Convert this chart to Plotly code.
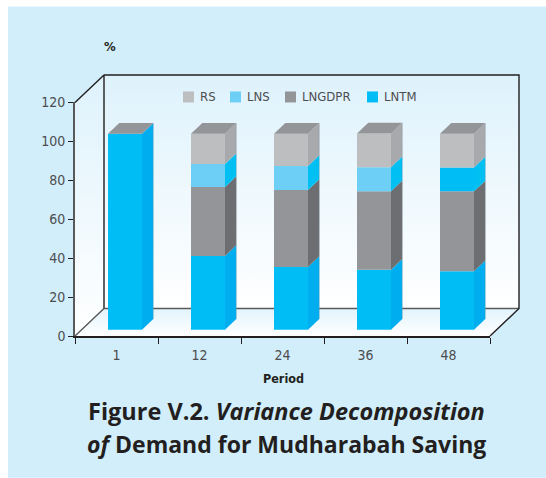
import plotly.graph_objects as go

periods = ["1", "12", "24", "36", "48"]
LNTM = [100.7, 37.9, 32.2, 30.8, 30.1]
LNGDPR = [0, 35.4, 39.6, 40.4, 41.0]
LNS = [0, 11.8, 12.3, 12.3, 12.3]
RS = [0, 15.6, 16.6, 17.3, 17.3]
series = ["LNTM", "LNGDPR", "LNS", "RS"]
values = [LNTM, LNGDPR, LNS, RS]
front_colors = ["#00bef5", "#939598", "#6dcff6", "#bcbec0"]
side_colors = ["#00aeef", "#6d6e71", "#00bff3", "#a7a9ac"]
legend_order = ["RS", "LNS", "LNGDPR", "LNTM"]
legend_colors = ["#bcbec0", "#6dcff6", "#939598", "#00bef5"]

W, H = 546, 478
L, R, T, B = 75, 490, 102, 336
PAD = 4
CX = (R - L) / 5
CY = (B - T) / 120
YMAX = 120
DX_PX, DY_PX = 29, 27.5
DEPTH_X, DEPTH_Y = DX_PX / CX, DY_PX / CY
BAR_X, BAR_Y = 33 / CX, 6.3 / CY
BAR_W = 34 / CX
SIDE_X, SIDE_Y = 11.3 / CX, 10.7 / CY
# drawing area (holds the whole pseudo-3D box), in page pixels
AL, AR, AT, AB = L - PAD, R + DX_PX + PAD, T - DY_PX - PAD, B + PAD
INK = "#4d4d4f"
BOX = "#231f20"
FONT = "DejaVu Sans Condensed, Lato, sans-serif"
TITLE_FONT = "Open Sans, Noto Sans, sans-serif"

fig = go.Figure()


def poly(xs, ys, color=None, gradient=None):
    kw = dict(fillgradient=gradient) if gradient else dict(fillcolor=color)
    fig.add_trace(go.Scatter(x=xs, y=ys, mode="lines", fill="toself", line=dict(width=0),
                             hoverinfo="skip", showlegend=False, **kw))


def line(xs, ys, color=BOX, width=1.4):
    fig.add_trace(go.Scatter(x=xs, y=ys, mode="lines", line=dict(color=color, width=width),
                             hoverinfo="skip", showlegend=False))


grad = dict(type="vertical", colorscale=[[0, "#ffffff"], [1, "#def2fc"]])
n = len(periods)
# left wall, back wall, floor
poly([0, DEPTH_X, DEPTH_X, 0, 0], [0, DEPTH_Y, YMAX + DEPTH_Y, YMAX, 0], gradient=grad)
poly([DEPTH_X, n + DEPTH_X, n + DEPTH_X, DEPTH_X, DEPTH_X],
     [DEPTH_Y, DEPTH_Y, YMAX + DEPTH_Y, YMAX + DEPTH_Y, DEPTH_Y], gradient=grad)
poly([0, n, n + DEPTH_X, DEPTH_X, 0], [0, 0, DEPTH_Y, DEPTH_Y, 0],
     gradient=dict(type="vertical", colorscale=[[0, "#ffffff"], [1, "#e2f4fc"]]))
line([0, DEPTH_X, DEPTH_X], [YMAX, YMAX + DEPTH_Y, DEPTH_Y])
line([0, DEPTH_X, n + DEPTH_X], [0, DEPTH_Y, DEPTH_Y], color="#58595b")
line([DEPTH_X, n + DEPTH_X, n + DEPTH_X, n], [YMAX + DEPTH_Y, YMAX + DEPTH_Y, DEPTH_Y, 0])

# bars: front, side and top faces from the cumulated series values
for i in range(n):
    x0 = i + BAR_X
    x1 = x0 + BAR_W
    base = BAR_Y
    for s, vals in enumerate(values):
        v = vals[i]
        if v == 0:
            continue
        top = base + v
        front = front_colors[s]
        if series[s] == "LNS" and periods[i] == "48":
            front = "#00bef5"
        poly([x0, x1, x1, x0, x0], [base, base, top, top, base], color=front)
        poly([x1, x1 + SIDE_X, x1 + SIDE_X, x1, x1],
             [base, base + SIDE_Y, top + SIDE_Y, top, base], color=side_colors[s])
        base = top
    poly([x0, x1, x1 + SIDE_X, x0 + SIDE_X, x0],
         [base, base, base + SIDE_Y, base + SIDE_Y, base], color="#939598")
    line([x1 + SIDE_X, x1 + SIDE_X], [BAR_Y + SIDE_Y, base + SIDE_Y], color="rgba(130,150,165,0.35)", width=1)


def px(x):
    return (x - AL) / (AR - AL)


def py(y):
    return (AB - y) / (AB - AT)


shapes = [dict(type="rect", xref="paper", yref="paper", layer="below", line=dict(width=0),
               fillcolor="#d2eefb", x0=px(8), x1=px(W), y0=py(H), y1=py(6))]
anns = []


def text(x, y, s, size, color=INK, font=FONT, xanchor="center"):
    anns.append(dict(x=px(x), y=py(y), xref="paper", yref="paper", text=s, showarrow=False,
                     xanchor=xanchor, yanchor="middle", font=dict(family=font, size=size, color=color)))


for name, col, sx in zip(legend_order, legend_colors, [183, 230, 285, 367]):
    shapes.append(dict(type="rect", xref="paper", yref="paper", line=dict(width=0), fillcolor=col,
                       x0=px(sx), x1=px(sx + 11), y0=py(102), y1=py(91)))
    text(sx + 15, 96.5, name, 13, xanchor="left")

text(110, 46, "<b>%</b>", 13, color="#231f20")
text(283, 379, "<b>Period</b>", 12.5, color="#231f20")
text(286, 411, "<b>Figure V.2. <i>Variance Decomposition</i></b>", 23.5, color="#231f20", font=TITLE_FONT)
text(286, 444, "<b><i>of</i> Demand for Mudharabah Saving</b>", 23, color="#231f20", font=TITLE_FONT)

fig.add_trace(go.Scatter(x=[], y=[], xaxis="x2", yaxis="y2", showlegend=False, hoverinfo="skip"))

fig.update_layout(
    width=W, height=H, autosize=False, showlegend=False,
    margin=dict(l=AL, r=W - AR, t=AT, b=H - AB, pad=0),
    paper_bgcolor="#ffffff", plot_bgcolor="rgba(0,0,0,0)",
    shapes=shapes, annotations=anns,
    font=dict(family=FONT, size=14, color=INK),
    # invisible scale of the drawing area; one unit equals one unit of the visible axes
    xaxis=dict(range=[(AL - L) / CX, (AR - L) / CX], visible=False, fixedrange=True),
    yaxis=dict(range=[(B - AB) / CY, (B - AT) / CY], visible=False, fixedrange=True),
    xaxis2=dict(domain=[px(L), px(R)], anchor="y2", range=[0, n], tickmode="array",
                tickvals=[i + 0.5 for i in range(n)], ticktext=periods,
                ticks="", ticklen=0, ticklabelstandoff=5, showgrid=False, zeroline=False,
                showline=True, linecolor=BOX, linewidth=1.6, fixedrange=True,
                minor=dict(tickmode="array", tickvals=list(range(n + 1)), ticks="outside", ticklen=6,
                           tickcolor=BOX, tickwidth=1.3, showgrid=False)),
    yaxis2=dict(domain=[py(B), py(T)], anchor="x2", range=[0, YMAX], tickmode="linear", tick0=0, dtick=20,
                ticks="outside", ticklen=5, tickcolor=BOX, tickwidth=1.3, showgrid=False, zeroline=False,
                showline=True, linecolor="#58595b", linewidth=1.6, fixedrange=True),
)

fig.write_html("out.html", config=dict(displayModeBar=False),
               post_script="document.body.style.margin='0';document.documentElement.style.overflow='hidden';")
